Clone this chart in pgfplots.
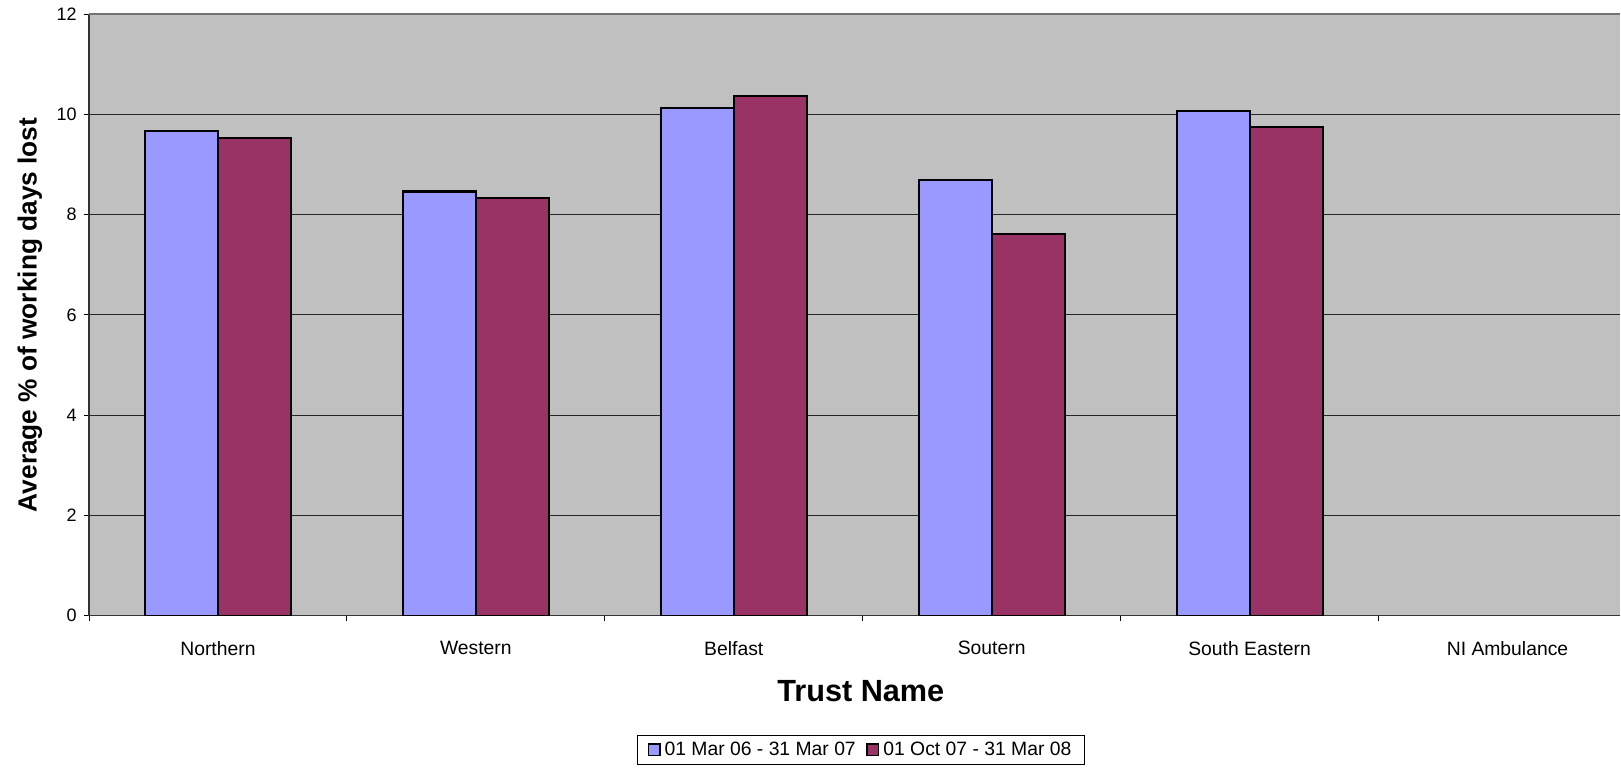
\documentclass[border=0pt]{standalone}
\usepackage{fontspec}
\setmainfont{Liberation Sans}
\usepackage{pgfplots}
\pgfplotsset{compat=1.18}
\definecolor{plotbg}{HTML}{C0C0C0}
\definecolor{serA}{HTML}{9999FF}
\definecolor{serB}{HTML}{993366}

\begin{document}
\begin{tikzpicture}
\begin{axis}[
    name=ax,
    scale only axis,
    width=1149pt, height=451.5pt,
    xmin=-0.5, xmax=5.438,
    ymin=0, ymax=12,
    ytick={0,2,...,12},
    xtick={0,...,5},
    xticklabels={Northern,Western,Belfast,Soutern,South Eastern,NI Ambulance},
    xtick style={draw=none},
    extra x ticks={-0.5,0.5,1.5,2.5,3.5,4.5},
    extra x tick labels={},
    extra x tick style={grid=none, xtick style={draw=black, line width=0.6pt}},
    tick align=outside,
    major tick length=3.75pt,
    ytick style={line width=0.6pt, black},
    axis x line*=bottom,
    axis y line*=left,
    axis line style={line width=0.8pt, black!80, -},
    axis background/.style={fill=plotbg},
    ymajorgrids,
    grid style={black!85, line width=0.6pt},
    /pgf/number format/assume math mode=true,
    yticklabel style={font=\fontsize{13.5}{16}\selectfont, xshift=-2pt},
    xticklabel style={font=\fontsize{14.5}{17}\selectfont, yshift=-12pt},
    every axis y label/.style={at={(axis description cs:0,0.5)}, xshift=-44.25pt, rotate=90, anchor=center},
    every axis x label/.style={at={(axis description cs:0.504,0)}, yshift=-56.25pt, anchor=center},
    ylabel={\fontsize{19.7}{22}\selectfont\bfseries Average \% of working days lost},
    xlabel={\fontsize{23}{26}\selectfont\bfseries Trust Name},
    ybar,
    bar width=0.283,
    legend columns=2,
    legend style={at={(axis description cs:0.504,-0.198)}, anchor=north, draw=black, line width=0.5pt,
        font=\fontsize{14.5}{17}\selectfont, inner xsep=8pt, inner ysep=3pt,
        /tikz/every odd column/.append style={column sep=1pt},
        /tikz/every even column/.append style={column sep=6pt}},
    legend image code/.code={\draw[#1, line width=1.1pt] (0pt,-4.3pt) rectangle (8.6pt,4.3pt);},
    after end axis/.code={\draw[black!55, line width=0.8pt] (rel axis cs:0,1) -- (rel axis cs:1,1);},
]
\addplot[fill=serA, draw=black, line width=1.6pt, bar shift=-0.1415]
    coordinates {(0,9.66) (1,8.46) (2,10.13) (3,8.69) (4,10.07)};
\addplot[fill=serB, draw=black, line width=1.6pt, bar shift=0.1415]
    coordinates {(0,9.53) (1,8.33) (2,10.37) (3,7.62) (4,9.74)};
\legend{01 Mar 06 - 31 Mar 07, 01 Oct 07 - 31 Mar 08}
\end{axis}
\path (ax.south west) ++(-66.75pt,-114.75pt) coordinate (bl);
\path (ax.north west) ++(-66.75pt,10.5pt) coordinate (tl);
\path (bl) -- (tl);
\end{tikzpicture}
\end{document}
